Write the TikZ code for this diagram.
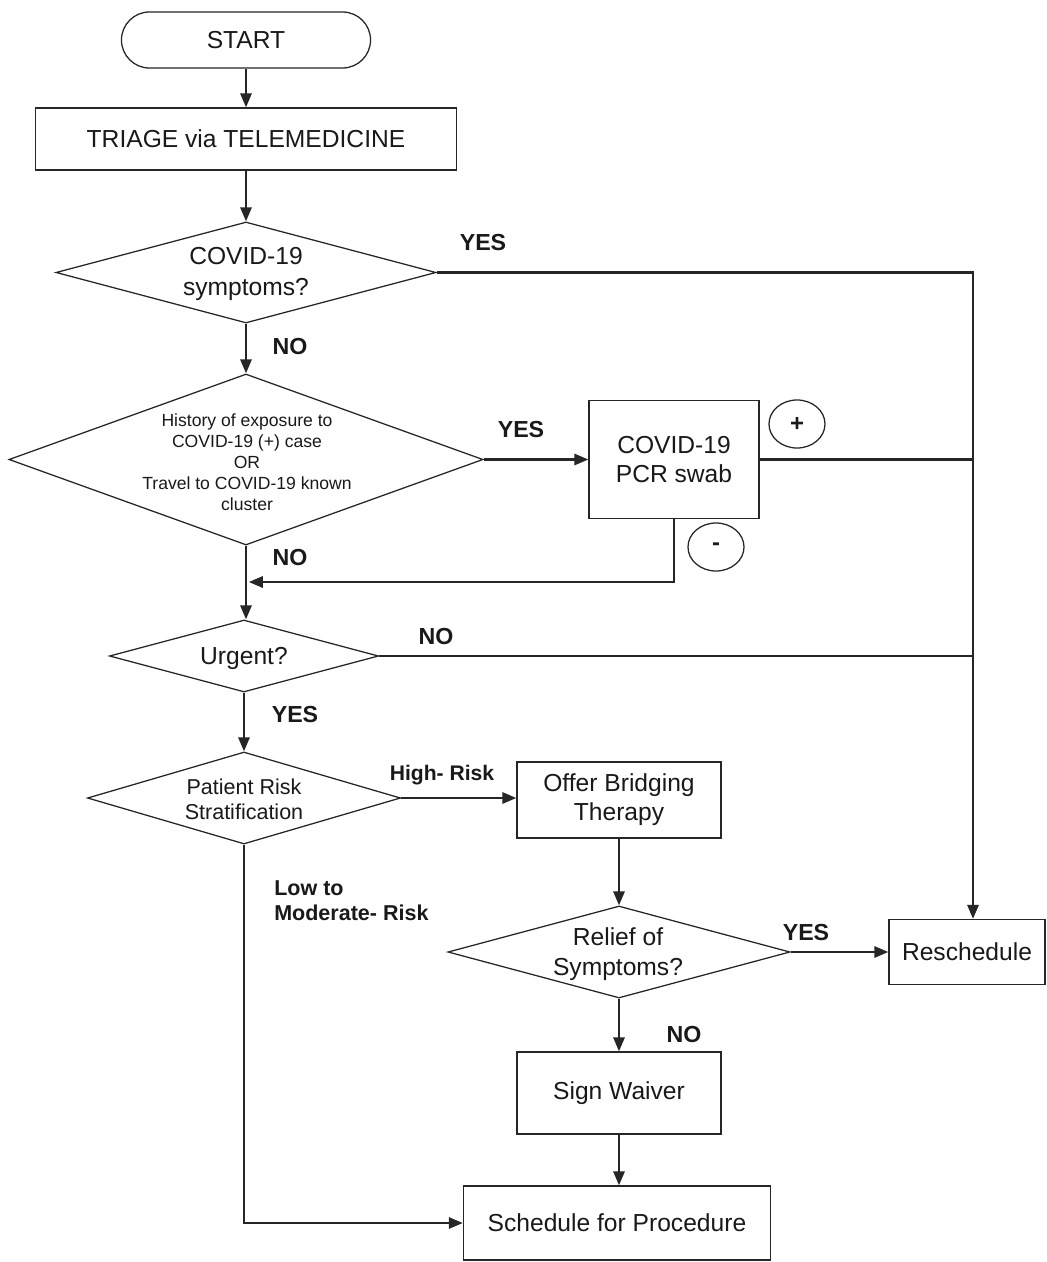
\documentclass[tikz,border=0pt]{standalone}
\usepackage{fontspec}
\setmainfont{Liberation Sans}
\usetikzlibrary{shapes.geometric,arrows.meta}
\begin{document}
\begin{tikzpicture}[x=0.025cm,y=-0.025cm,
  box/.style={draw=black!85, line width=0.9pt, rectangle, inner sep=0pt, text=black!90,
    font=\fontsize{17.5}{21.5}\selectfont, align=center},
  dia/.style={draw=black!85, line width=0.9pt, diamond, inner sep=0pt},
  dtext/.style={text=black!90, align=center, inner sep=0pt},
  conn/.style={line width=1.7pt, draw=black!85, -{Triangle[length=10pt,width=8pt]}},
  plain/.style={line width=1.7pt, draw=black!85},
  lbl/.style={text=black!90, font=\fontsize{16.5}{18}\selectfont\bfseries, inner sep=0pt},
  slbl/.style={text=black!90, font=\fontsize{15}{18}\selectfont\bfseries, inner sep=0pt, align=left},
  sign/.style={draw=black!85, line width=0.9pt, ellipse, minimum width=1.4cm, minimum height=1.2cm,
    inner sep=0pt, text=black!90, font=\fontsize{17}{18}\selectfont\bfseries}
]
\useasboundingbox (0,0) rectangle (1046,1262);
\fill[white] (0,0) rectangle (1046,1262);

% nodes
\node[box, rounded corners=0.7cm, minimum width=6.225cm, minimum height=1.4cm] (start) at (246,40) {START};
\node[box, minimum width=10.525cm, minimum height=1.55cm] (triage) at (246,139) {TRIAGE via TELEMEDICINE};

\node[dia, minimum width=9.5cm, minimum height=2.525cm] (covid) at (246,272.5) {};
\node[dtext, font=\fontsize{17.5}{22}\selectfont] (covidt) at (246,274) {COVID-19\\symptoms?};

\node[dia, minimum width=11.85cm, minimum height=4.275cm] (exp) at (246,459.5) {};
\node[dtext, font=\fontsize{12.5}{15}\selectfont] (expt) at (247,462) {History of exposure to\\COVID-19 (+) case\\OR\\Travel to COVID-19 known\\cluster};

\node[box, minimum width=4.25cm, minimum height=2.95cm, font=\fontsize{17.5}{21.3}\selectfont] (pcr) at (674,459.5) {COVID-19\\PCR swab};
\node[sign] (plus) at (797,424) {+};
\node[sign] (minus) at (716,547) {-};

\node[dia, minimum width=6.725cm, minimum height=1.8cm] (urgent) at (244,656) {};
\node[dtext, font=\fontsize{17.5}{21}\selectfont] (urgentt) at (244,658) {Urgent?};

\node[dia, minimum width=7.825cm, minimum height=2.3cm] (risk) at (244,798) {};
\node[dtext, font=\fontsize{15.3}{17.8}\selectfont] (riskt) at (244,799) {Patient Risk\\Stratification};

\node[box, minimum width=5.1cm, minimum height=1.9cm, font=\fontsize{17.5}{20.6}\selectfont] (offer) at (619,800) {Offer Bridging\\Therapy};

\node[dia, minimum width=8.55cm, minimum height=2.3cm] (relief) at (619,952) {};
\node[dtext, font=\fontsize{17.5}{21.3}\selectfont] (relieft) at (618,954) {Relief of\\Symptoms?};

\node[box, minimum width=3.9cm, minimum height=1.625cm] (resched) at (967,952) {Reschedule};

\node[box, minimum width=5.1cm, minimum height=2.05cm] (waiver) at (619,1093) {Sign Waiver};

\node[box, minimum width=7.675cm, minimum height=1.85cm] (sched) at (617,1223) {Schedule for Procedure};

% junction coordinates
\coordinate (jy) at (973,272.5);
\coordinate (merge) at (246,582);

% connectors
\draw[conn] (start) -- (triage);
\draw[conn] (triage) -- (covid.north);
\draw[conn] (covid.east) -- (jy) -- (jy |- resched.north);
\draw[conn] (covid.south) -- (exp.north);
\draw[conn] (exp.east) -- (pcr.west);
\draw[plain] (pcr.east) -- (jy |- pcr.east);
\draw[conn] (pcr.south) -- (pcr.south |- merge) -- ([xshift=2pt]merge);
\draw[conn] (exp.south) -- (urgent.north -| exp.south);
\draw[plain] (urgent.east) -- (jy |- urgent.east);
\draw[conn] (urgent.south) -- (risk.north);
\draw[conn] (risk.east) -- (offer.west |- risk.east);
\draw[conn] (offer.south) -- (relief.north);
\draw[conn] (relief.east) -- (resched.west);
\draw[conn] (relief.south) -- (waiver.north);
\draw[conn] (waiver.south) -- (sched.north -| waiver.south);
\draw[conn] (risk.south) -- (risk.south |- sched.west) -- (sched.west);

% labels
\node[lbl] (l1) at (483,243) {YES};
\node[lbl] (l2) at (290,347) {NO};
\node[lbl] (l3) at (521,430) {YES};
\node[lbl] (l4) at (290,558) {NO};
\node[lbl] (l5) at (436,637) {NO};
\node[lbl] (l6) at (295,715) {YES};
\node[slbl] (l7) at (442,775) {High- Risk};
\node[slbl, anchor=west, font=\fontsize{15.3}{17.8}\selectfont\bfseries] (l8) at (274,901) {Low to\\Moderate- Risk};
\node[lbl] (l9) at (806,933) {YES};
\node[lbl] (l10) at (684,1035) {NO};
\end{tikzpicture}
\end{document}
